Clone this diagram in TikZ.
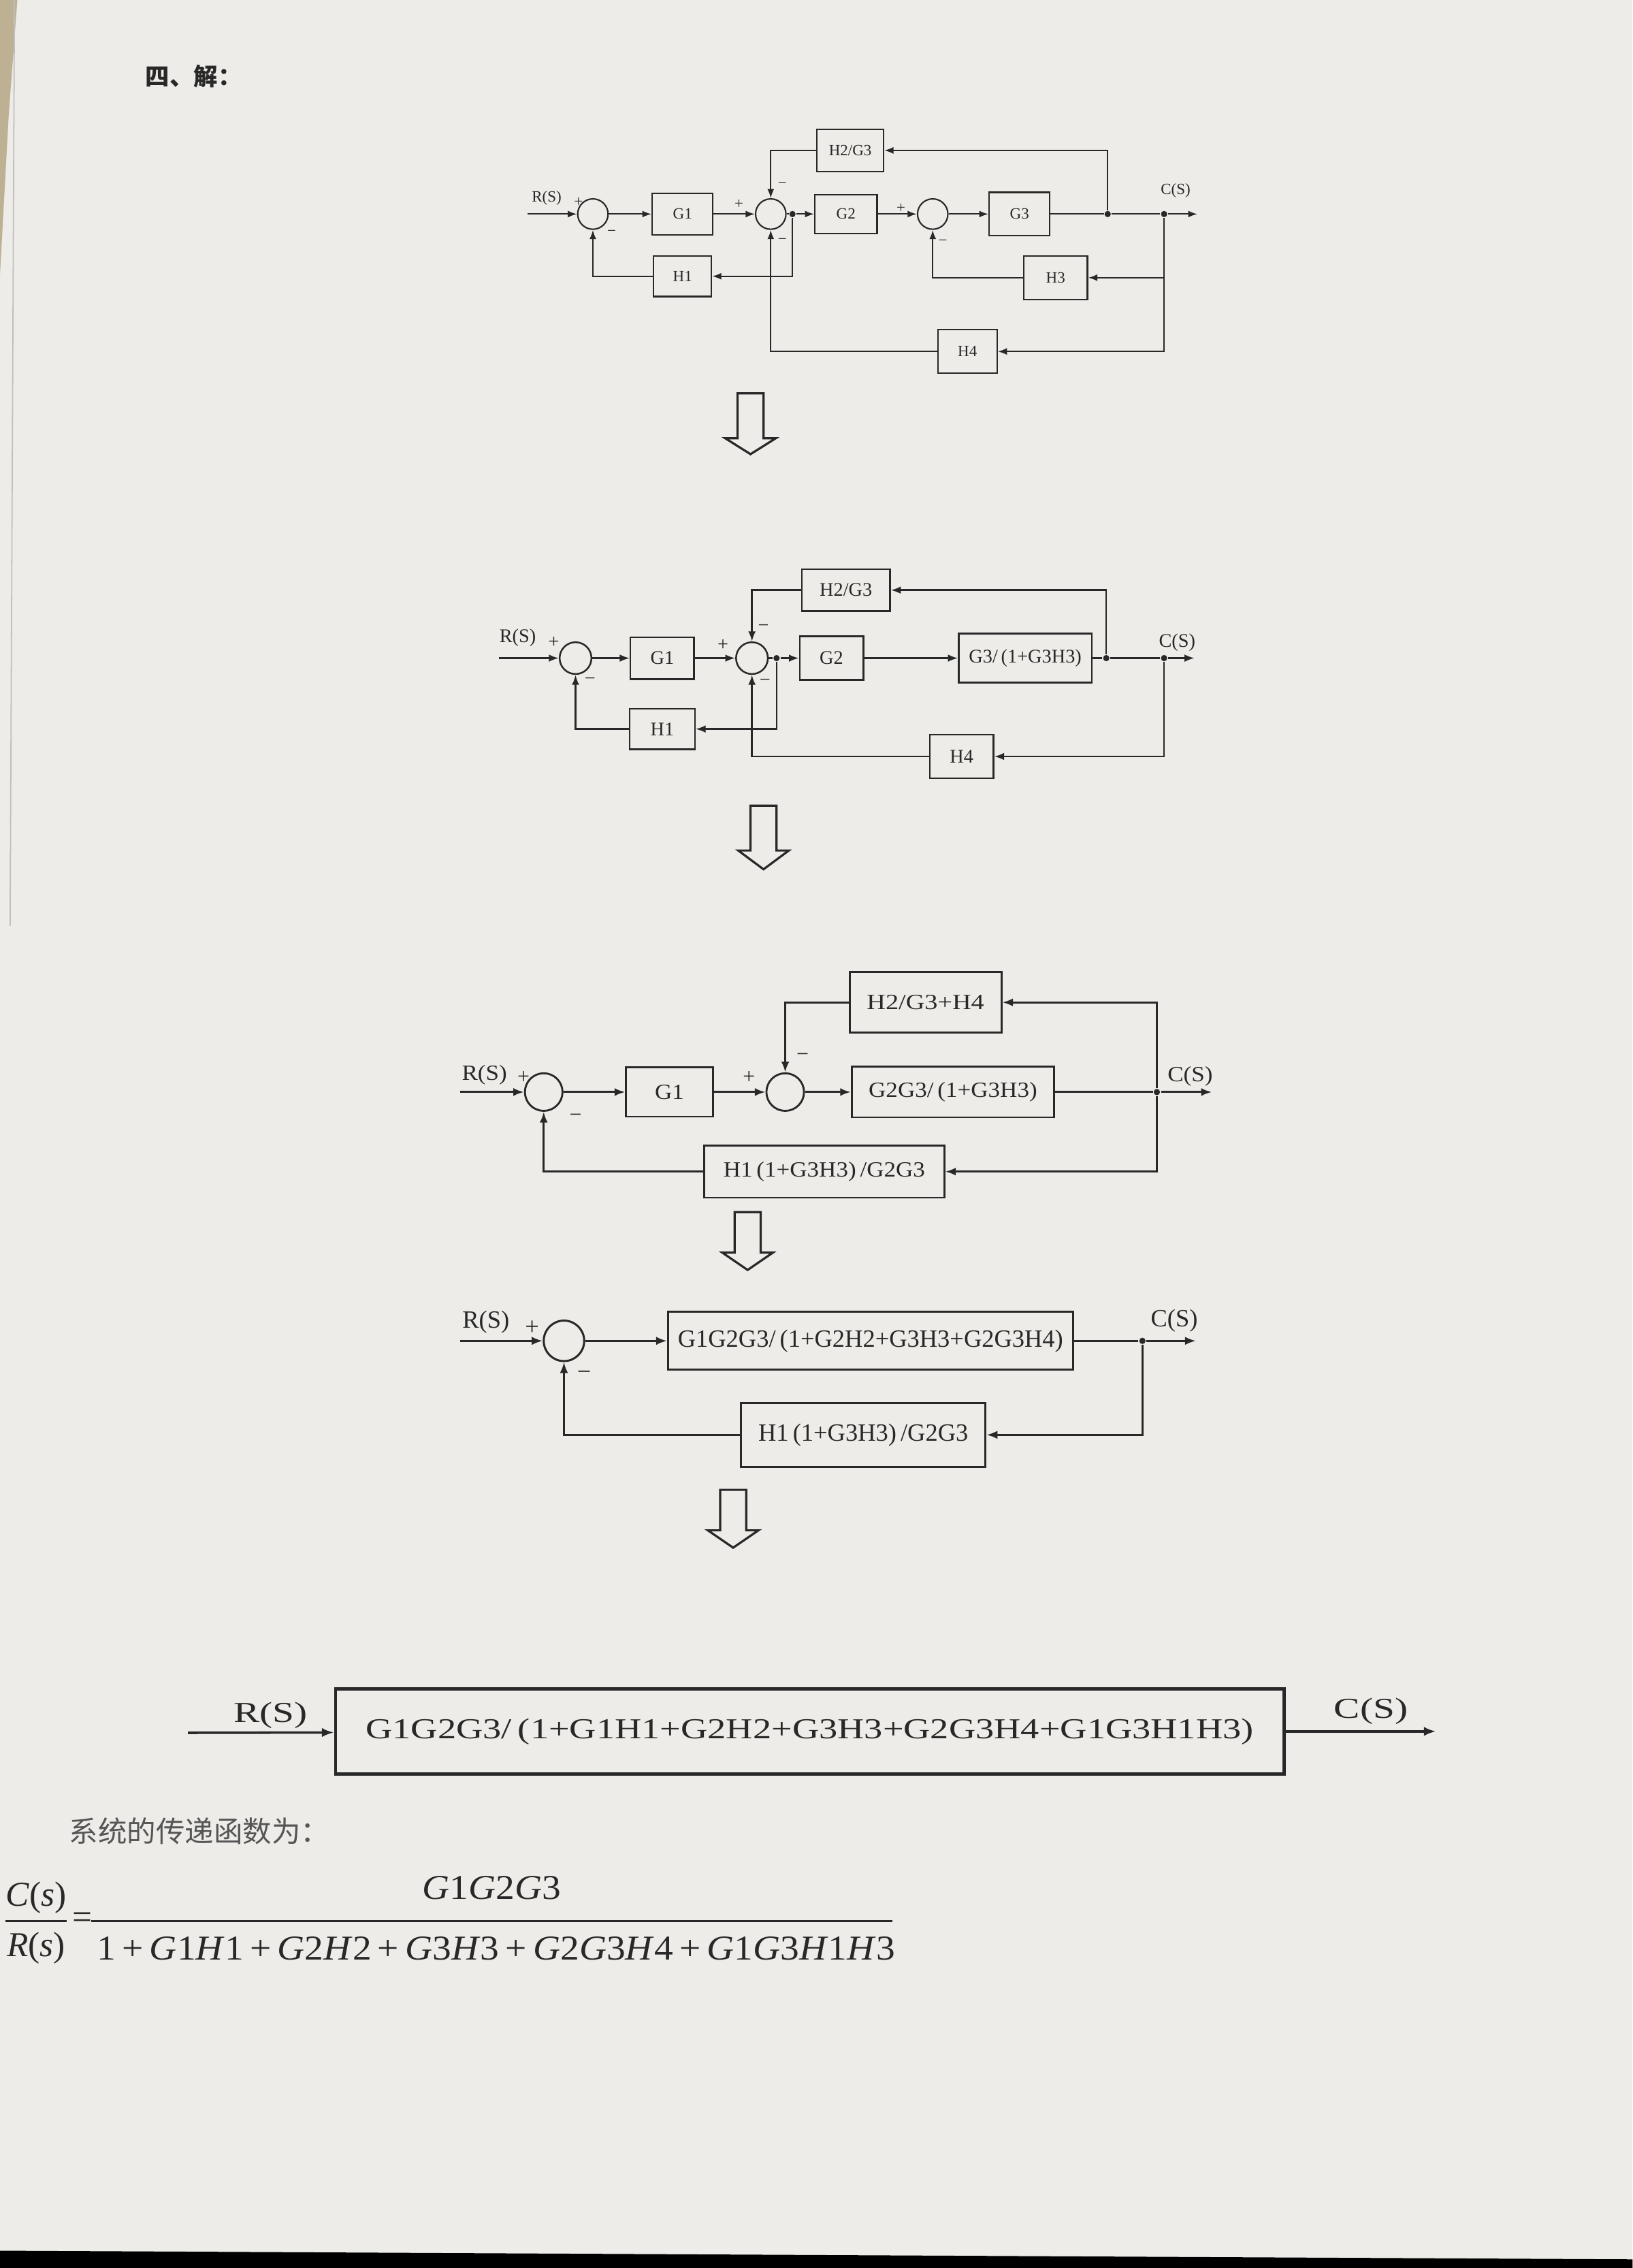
\documentclass[tikz,border=0pt]{standalone}
\usepackage{fontspec}
\usepackage{graphicx}
\setmainfont{Liberation Serif}
\newfontfamily\cjk{Noto Sans CJK SC}
\usetikzlibrary{arrows.meta}
\definecolor{paper}{RGB}{237,236,232}
\definecolor{ink}{RGB}{40,40,40}
\definecolor{desk}{RGB}{190,176,146}
\definecolor{note}{RGB}{85,85,85}
\newcommand\fsz[1]{\fontsize{#1}{#1}\selectfont}
\newcommand\hs[2]{\scalebox{#1}[1]{#2}}
\newcommand\iv[1]{\textit{#1}}
% hollow "next step" arrow: centre x, top, shaft bottom, tip
\newcommand\hollowdown[4]{%
  \draw[hollow] (#1-9,#2) -- (#1+9,#2) -- (#1+9,#3) -- (#1+17.5,#3)
    -- (#1,#4) -- (#1-17.5,#3) -- (#1-9,#3) -- cycle;}
\begin{document}
\begin{tikzpicture}[x=0.6pt,y=-0.6pt,
  every node/.style={text=ink},
  blk/.style 2 args={draw=ink, minimum width=#1*0.6pt, minimum height=#2*0.6pt, inner sep=0pt},
  sumj/.style={draw=ink, circle, minimum size=#1*1.2pt, inner sep=0pt},
  wire/.style={draw=ink},
  arr/.style={draw=ink, -{Latex[length=2pt 3, width=1.4pt 2.4]}},
  dot/.style={circle, fill=ink, draw=none, inner sep=0pt, minimum size=2.6pt},
  sgn/.style={inner sep=0pt},
  hollow/.style={draw=ink, line width=0.9pt, line join=miter}]

\useasboundingbox (0,0) rectangle (1129,1568);
% sheet of paper on the desk
\fill[paper] (0,0) rectangle (1129,1568);
\fill[desk] (0,0) -- (12,0) -- (6,80) -- (0,190) -- cycle;
\draw[black!25, line width=0.5pt] (10,0) -- (7,640);
\fill[black] (0,1556) -- (1129,1562) -- (1129,1568) -- (0,1568) -- cycle;

\node[font=\cjk\bfseries\fsz{10}] (hdr) at (134,53) {四、解：};

% ---------- original system ----------
\begin{scope}[line width=0.6pt, font=\fsz{6.5}]
  \coordinate (ina) at (365,148);
  \node[sumj=10.5] (s1a) at (410,148) {};
  \node[blk={42}{29}] (g1a) at (472,148) {G1};
  \node[sumj=10.5] (s2a) at (533,148) {};
  \node[dot] (t1a) at (548,148) {};
  \node[blk={43}{27}] (g2a) at (585,148) {G2};
  \node[sumj=10.5] (s3a) at (645,148) {};
  \node[blk={42}{30}] (g3a) at (705,148) {G3};
  \node[dot] (t2a) at (766,148) {};
  \node[dot] (t3a) at (805,148) {};
  \coordinate (outa) at (828,148);
  \node[blk={46}{29}] (hga) at (588,104) {H2/G3};
  \node[blk={40}{28}] (h1a) at (472,191) {H1};
  \node[blk={44}{30}] (h3a) at (730,192) {H3};
  \node[blk={41}{30}] (h4a) at (669,243) {H4};

  \draw[arr] (ina) -- (s1a);
  \draw[arr] (s1a) -- (g1a);
  \draw[arr] (g1a) -- (s2a);
  \draw[wire] (s2a) -- (t1a);
  \draw[arr] (t1a) -- (g2a);
  \draw[arr] (g2a) -- (s3a);
  \draw[arr] (s3a) -- (g3a);
  \draw[wire] (g3a) -- (t2a) -- (t3a);
  \draw[arr] (t3a) -- (outa);
  \draw[arr] (t2a) |- (hga);
  \draw[arr] (hga) -| (s2a);
  \draw[arr] (t1a) |- (h1a);
  \draw[arr] (h1a) -| (s1a);
  \draw[arr] (t3a) |- (h3a);
  \draw[arr] (h3a) -| (s3a);
  \draw[arr] (t3a) |- (h4a);
  \draw[arr] (h4a) -| (s2a);

  \node[sgn] (pa1) at (400,140) {+};
  \node[sgn] (ma1) at (423,161) {−};
  \node[sgn] (pa2) at (511,141) {+};
  \node[sgn] (ma2) at (541,128) {−};
  \node[sgn] (ma3) at (541,167) {−};
  \node[sgn] (pa3) at (623,144) {+};
  \node[sgn] (ma4) at (652,168) {−};
  \node[sgn] (ra) at (378,137) {R(S)};
  \node[sgn] (ca) at (813,132) {C(S)};
\end{scope}

\hollowdown{519}{272}{303}{314}

% ---------- G3 loop closed ----------
\begin{scope}[line width=0.7pt, font=\fsz{8}]
  \coordinate (inb) at (345,455);
  \node[sumj=11] (s1b) at (398,455) {};
  \node[blk={44}{29}] (g1b) at (458,455) {G1};
  \node[sumj=11] (s2b) at (520,455) {};
  \node[dot] (t1b) at (537,455) {};
  \node[blk={44}{30}] (g2b) at (575,455) {G2};
  \node[blk={92}{34}] (g3b) at (709,455) {G3/\,(1+G3H3)};
  \node[dot] (t2b) at (765,455) {};
  \node[dot] (t3b) at (805,455) {};
  \coordinate (outb) at (826,455);
  \node[blk={61}{29}] (hgb) at (585,408) {H2/G3};
  \node[blk={45}{28}] (h1b) at (458,504) {H1};
  \node[blk={44}{30}] (h4b) at (665,523) {H4};

  \draw[arr] (inb) -- (s1b);
  \draw[arr] (s1b) -- (g1b);
  \draw[arr] (g1b) -- (s2b);
  \draw[wire] (s2b) -- (t1b);
  \draw[arr] (t1b) -- (g2b);
  \draw[arr] (g2b) -- (g3b);
  \draw[wire] (g3b) -- (t2b) -- (t3b);
  \draw[arr] (t3b) -- (outb);
  \draw[arr] (t2b) |- (hgb);
  \draw[arr] (hgb) -| (s2b);
  \draw[arr] (t1b) |- (h1b);
  \draw[arr] (h1b) -| (s1b);
  \draw[arr] (t3b) |- (h4b);
  \draw[arr] (h4b) -| (s2b);

  \node[sgn] (pb1) at (383,444) {+};
  \node[sgn] (mb1) at (408,471) {−};
  \node[sgn] (pb2) at (500,446) {+};
  \node[sgn] (mb2) at (528,434) {−};
  \node[sgn] (mb3) at (529,472) {−};
  \node[sgn] (rb) at (358,441) {R(S)};
  \node[sgn] (cb) at (814,444) {C(S)};
\end{scope}

\hollowdown{528}{557}{588}{601}

% ---------- H1 tap moved, H2/H4 combined ----------
\begin{scope}[line width=0.8pt, font=\fsz{9}]
  \coordinate (inc) at (318,755);
  \node[sumj=13] (s1c) at (376,755) {};
  \node[blk={60}{34}] (g1c) at (463,755) {\hs{1.1}{G1}};
  \node[sumj=13] (s2c) at (543,755) {};
  \node[blk={140}{35}] (g23c) at (659,755) {\hs{1.1}{G2G3/\,(1+G3H3)}};
  \node[dot] (t1c) at (800,755) {};
  \coordinate (outc) at (838,755);
  \node[blk={105}{42}] (hgc) at (640,693) {\hs{1.2}{H2/G3+H4}};
  \node[blk={166}{36}] (h1c) at (570,810) {\hs{1.1}{H1\,(1+G3H3)\,/G2G3}};

  \draw[arr] (inc) -- (s1c);
  \draw[arr] (s1c) -- (g1c);
  \draw[arr] (g1c) -- (s2c);
  \draw[arr] (s2c) -- (g23c);
  \draw[wire] (g23c) -- (t1c);
  \draw[arr] (t1c) -- (outc);
  \draw[arr] (t1c) |- (hgc);
  \draw[arr] (hgc) -| (s2c);
  \draw[arr] (t1c) |- (h1c);
  \draw[arr] (h1c) -| (s1c);

  \node[sgn] (pc1) at (362,745) {+};
  \node[sgn] (mc1) at (398,773) {−};
  \node[sgn] (pc2) at (518,745) {+};
  \node[sgn] (mc2) at (555,731) {−};
  \node[sgn] (rc) at (335,743) {\hs{1.1}{R(S)}};
  \node[sgn] (cc) at (823,744) {\hs{1.1}{C(S)}};
\end{scope}

\hollowdown{517}{838}{866}{878}

% ---------- inner loop closed ----------
\begin{scope}[line width=0.85pt, font=\fsz{10.3}]
  \coordinate (ind) at (318,927);
  \node[sumj=14] (s1d) at (390,927) {};
  \node[blk={280}{40}] (gd) at (602,927) {G1G2G3/\,(1+G2H2+G3H3+G2G3H4)};
  \node[dot] (t1d) at (790,927) {};
  \coordinate (outd) at (827,927);
  \node[blk={169}{44}] (h1d) at (597,992) {H1\,(1+G3H3)\,/G2G3};

  \draw[arr] (ind) -- (s1d);
  \draw[arr] (s1d) -- (gd);
  \draw[wire] (gd) -- (t1d);
  \draw[arr] (t1d) -- (outd);
  \draw[arr] (t1d) |- (h1d);
  \draw[arr] (h1d) -| (s1d);

  \node[sgn] (pd1) at (368,918) {+};
  \node[sgn] (md1) at (404,951) {−};
  \node[sgn] (rd) at (336,914) {R(S)};
  \node[sgn] (cd) at (812,913) {C(S)};
\end{scope}

\hollowdown{507}{1030}{1058}{1070}

% ---------- single equivalent block ----------
\begin{scope}[line width=1pt, font=\fsz{12}]
  \coordinate (ine) at (130,1198);
  \node[blk={656}{59}, line width=1.3pt] (fe) at (560,1197)
    {\hs{1.28}{G1G2G3/\,(1+G1H1+G2H2+G3H3+G2G3H4+G1G3H1H3)}};
  \coordinate (oute) at (993,1197);
  \draw[arr] (ine) -- (fe);
  \draw[arr] (fe) -- (oute);
  \node[sgn] (re) at (187,1186) {\hs{1.35}{R(S)}};
  \node[sgn] (ce) at (948,1183) {\hs{1.35}{C(S)}};
\end{scope}

\node[font=\cjk\fsz{12}, text=note] (txt) at (138,1266) {系统的传递函数为：};

% ---------- transfer function ----------
\begin{scope}[font=\fsz{14.5}]
  \node[inner sep=0pt] (cs) at (25,1312) {\hs{1.0}{\iv{C}(\iv{s})}};
  \node[inner sep=0pt] (rs) at (25,1347) {\hs{1.0}{\iv{R}(\iv{s})}};
  \draw[ink, line width=0.8pt] (4,1328) -- (46,1328);
  \node[inner sep=0pt] (eq) at (57,1328) {=};
  \node[inner sep=0pt] (num) at (340,1305) {\hs{1.08}{\iv{G}1\iv{G}2\iv{G}3}};
  \draw[ink, line width=0.8pt] (63,1328) -- (617,1328);
  \node[inner sep=0pt] (den) at (343,1347)
    {\hs{1.08}{1\,+\,\iv{G}1\iv{H}1\,+\,\iv{G}2\iv{H}2\,+\,\iv{G}3\iv{H}3\,+\,\iv{G}2\iv{G}3\iv{H}4\,+\,\iv{G}1\iv{G}3\iv{H}1\iv{H}3}};
\end{scope}
\end{tikzpicture}
\end{document}
